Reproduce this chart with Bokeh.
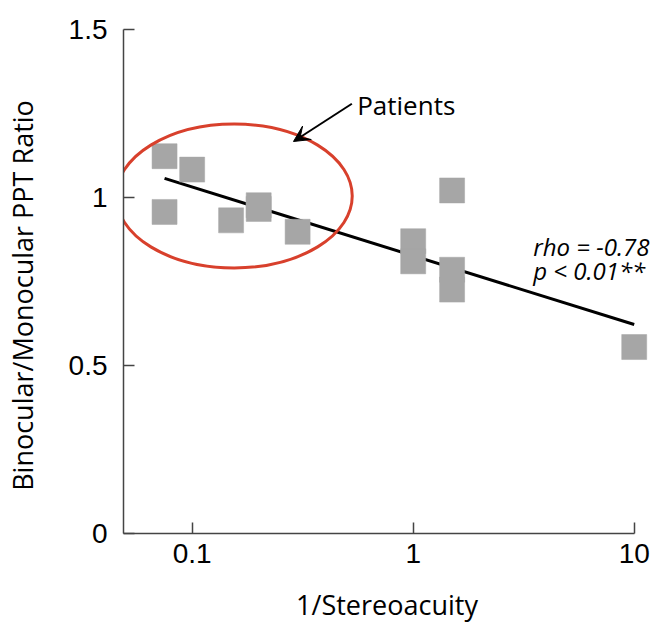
from bokeh.plotting import figure
from bokeh.models import Range1d, FixedTicker, Label, Arrow, VeeHead
from bokeh.embed import file_html
from bokeh.resources import INLINE

# data
stereo_inv = [0.075, 0.1, 0.075, 0.15, 0.2, 0.2, 0.3, 1.0, 1.0, 1.5, 1.5, 1.5, 10.0]
ppt_ratio = [1.123, 1.083, 0.957, 0.932, 0.977, 0.966, 0.898, 0.870, 0.810, 1.021, 0.785, 0.726, 0.555]
fit_x = [0.075, 10.0]
fit_y = [1.057, 0.622]
x_ticks = [0.1, 1, 10]
x_tick_labels = ["0.1", "1", "10"]
y_ticks = [0, 0.5, 1, 1.5]
y_tick_labels = ["0", "0.5", "1", "1.5"]
x_label = "1/Stereoacuity"
y_label = "Binocular/Monocular PPT Ratio"
ellipse_center = (0.155, 1.0045)
arrow_from = (0.528, 1.279)
arrow_to = (0.2873, 1.1667)
patients_pos = (0.558, 1.274)
stats_pos = (3.49, 0.854, 0.783)

p = figure(width=652, height=627, x_axis_type="log", output_backend="svg",
           toolbar_location=None,
           x_range=Range1d(0.0489, 11.85), y_range=Range1d(0, 1.5),
           min_border_left=123, min_border_right=2, min_border_top=29, min_border_bottom=94)
p.outline_line_color = None
p.xgrid.visible = False
p.ygrid.visible = False

for ax in (p.xaxis[0], p.yaxis[0]):
    ax.axis_line_color = "#444444"
    ax.axis_line_width = 1.5
    ax.major_tick_line_color = "#444444"
    ax.major_tick_line_width = 1.5
    ax.major_tick_in = 11
    ax.major_tick_out = 0
    ax.minor_tick_line_color = None
    ax.major_label_text_font = "Liberation Sans"
    ax.major_label_text_font_size = "28px"
    ax.major_label_text_color = "black"
    ax.axis_label_text_font = "Open Sans"
    ax.axis_label_text_font_style = "normal"
    ax.axis_label_text_font_size = "27px"
    ax.axis_label_text_color = "black"

p.xaxis.bounds = (0.0489, 10)
p.xaxis.ticker = FixedTicker(ticks=x_ticks)
p.xaxis.major_label_overrides = dict(zip(x_ticks, x_tick_labels))
p.yaxis.ticker = FixedTicker(ticks=y_ticks)
p.yaxis.major_label_overrides = dict(zip(y_ticks, y_tick_labels))
p.xaxis.major_label_standoff = 10
p.yaxis.major_label_standoff = 16
p.xaxis.axis_label = x_label
p.xaxis.axis_label_standoff = 20
# trailing no-break spaces move the centred label toward its start, as in the reference
p.yaxis.axis_label = y_label + "\u00a0" * 4
p.yaxis.axis_label_standoff = 25

p.line(fit_x, fit_y, line_color="black", line_width=3)
p.scatter(stereo_inv, ppt_ratio, marker="square", size=25,
          fill_color="#a6a6a6", line_color="#a6a6a6", line_width=0.5)

p.ellipse(x=[ellipse_center[0]], y=[ellipse_center[1]], width=[236], height=[144],
          width_units="screen", height_units="screen",
          fill_color=None, line_color="#d8402c", line_width=3)

p.add_layout(Arrow(end=VeeHead(size=16, fill_color="black", line_color="black"),
                   x_start=arrow_from[0], y_start=arrow_from[1],
                   x_end=arrow_to[0], y_end=arrow_to[1],
                   line_color="black", line_width=2))

p.add_layout(Label(x=patients_pos[0], y=patients_pos[1], text="Patients",
                   text_font="Open Sans", text_font_size="26px", text_color="black",
                   text_baseline="alphabetic", text_align="left"))
p.add_layout(Label(x=stats_pos[0], y=stats_pos[1], text="rho = -0.78",
                   text_font="Open Sans", text_font_style="italic", text_font_size="24px",
                   text_color="black", text_baseline="alphabetic", text_align="left"))
p.add_layout(Label(x=stats_pos[0], y=stats_pos[2], text="p < 0.01**",
                   text_font="Open Sans", text_font_style="italic", text_font_size="24px",
                   text_color="black", text_baseline="alphabetic", text_align="left"))

open("out.html", "w").write(file_html(p, INLINE))
